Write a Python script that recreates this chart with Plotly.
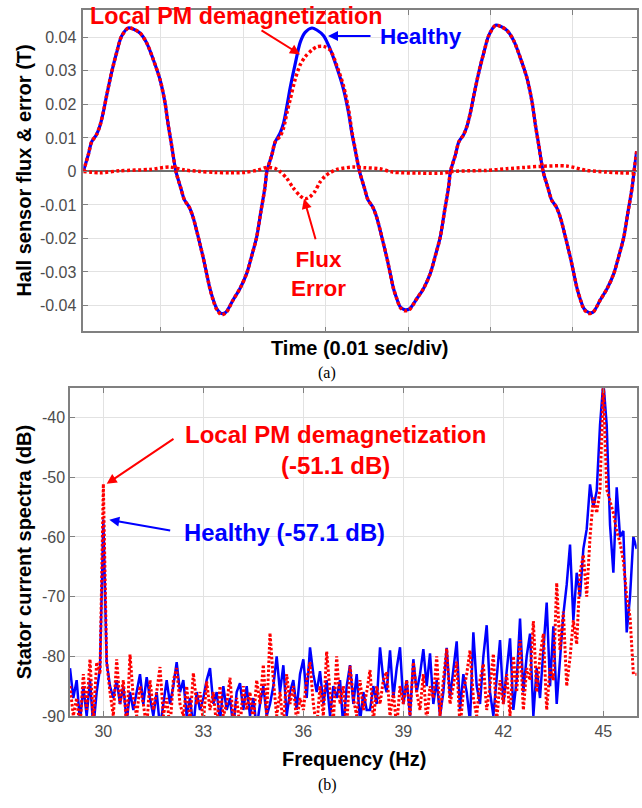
import plotly.graph_objects as go

W, H = 642, 808
def PX(x): return x / W
def PY(y): return 1 - y / H

# ---------------- (a) Hall sensor flux (time in ms; 0.01 s per division) ----------------
t_healthy = [0.00, 0.61, 1.01, 1.61, 2.03, 2.43, 2.83, 3.43, 4.04, 4.64, 5.46, 6.06, 6.88, 7.68, 8.49, 9.30, 9.91, 10.31, 10.71, 11.24,
             11.84, 12.27, 12.82, 13.34, 13.79, 14.15, 14.58, 14.97, 15.37, 15.77, 16.21, 16.78, 17.31, 18.19, 19.00, 19.82, 20.46, 21.03, 21.55, 22.04,
             22.28, 22.89, 23.29, 23.89, 24.31, 24.71, 25.11, 25.71, 26.32, 26.92, 27.74, 28.34, 29.16, 29.96, 30.77, 31.58, 32.19, 32.59, 32.99, 33.52,
             34.12, 34.55, 35.10, 35.62, 36.07, 36.43, 36.86, 37.25, 37.65, 38.05, 38.49, 39.06, 39.59, 40.47, 41.28, 42.10, 42.74, 43.31, 43.83, 44.32,
             44.56, 45.17, 45.57, 46.17, 46.59, 46.99, 47.39, 47.99, 48.60, 49.20, 50.02, 50.62, 51.44, 52.24, 53.05, 53.86, 54.47, 54.87, 55.27, 55.80,
             56.40, 56.83, 57.38, 57.90, 58.35, 58.71, 59.14, 59.53, 59.93, 60.33, 60.77, 61.34, 61.87, 62.75, 63.56, 64.38, 65.02, 65.59, 66.11, 66.60,
             66.84, 67.16]
flux_healthy = [0.0, 0.005, 0.0088, 0.011, 0.0137, 0.0177, 0.0226, 0.0295, 0.0354, 0.0403, 0.0428, 0.0425, 0.0413, 0.0384, 0.0334, 0.0275, 0.0206, 0.0138, 0.0079, 0.0,
                -0.005, -0.0085, -0.0105, -0.0138, -0.018, -0.0216, -0.026, -0.0305, -0.035, -0.0383, -0.041, -0.0424, -0.042, -0.0383, -0.035, -0.0305, -0.025, -0.0197, -0.012, -0.0049,
                0.0, 0.005, 0.0088, 0.0115, 0.0145, 0.0195, 0.025, 0.032, 0.0385, 0.0415, 0.0428, 0.0422, 0.0405, 0.0365, 0.031, 0.0245, 0.0175, 0.0115, 0.0065, 0.0,
                -0.005, -0.0085, -0.0105, -0.0138, -0.018, -0.0216, -0.026, -0.0305, -0.035, -0.038, -0.0405, -0.0413, -0.041, -0.038, -0.035, -0.0305, -0.025, -0.0197, -0.012, -0.0049,
                0.0, 0.005, 0.0088, 0.011, 0.0137, 0.0177, 0.0226, 0.0295, 0.0354, 0.0405, 0.0436, 0.0433, 0.042, 0.039, 0.0338, 0.0277, 0.0206, 0.0138, 0.0079, 0.0,
                -0.005, -0.0085, -0.0105, -0.0138, -0.018, -0.0216, -0.026, -0.0305, -0.035, -0.0383, -0.041, -0.0421, -0.042, -0.0383, -0.035, -0.0305, -0.025, -0.0197, -0.012, -0.0049,
                0.0, 0.006]
flux_demag = [0.0, 0.005, 0.0088, 0.011, 0.0137, 0.0177, 0.0226, 0.0295, 0.0354, 0.0403, 0.0428, 0.0425, 0.0413, 0.0384, 0.0334, 0.0275, 0.0206, 0.0138, 0.0079, 0.0,
              -0.005, -0.0085, -0.0105, -0.0138, -0.018, -0.0216, -0.026, -0.0305, -0.035, -0.0385, -0.0413, -0.0428, -0.0422, -0.0383, -0.035, -0.0305, -0.025, -0.0197, -0.012, -0.0049,
              0.0, 0.005, 0.0088, 0.0105, 0.013, 0.0175, 0.0215, 0.0275, 0.0318, 0.0342, 0.0362, 0.0372, 0.0373, 0.0362, 0.0315, 0.0255, 0.0185, 0.012, 0.0068, 0.0,
              -0.005, -0.0085, -0.0105, -0.0138, -0.018, -0.0216, -0.026, -0.0305, -0.035, -0.038, -0.0407, -0.0416, -0.0412, -0.038, -0.035, -0.0305, -0.025, -0.0197, -0.012, -0.0049,
              0.0, 0.005, 0.0088, 0.011, 0.0137, 0.0177, 0.0226, 0.0295, 0.0354, 0.0405, 0.0436, 0.0433, 0.042, 0.039, 0.0338, 0.0277, 0.0206, 0.0138, 0.0079, 0.0,
              -0.005, -0.0085, -0.0105, -0.0138, -0.018, -0.0216, -0.026, -0.0305, -0.035, -0.0383, -0.0412, -0.0424, -0.042, -0.0383, -0.035, -0.0305, -0.025, -0.0197, -0.012, -0.0049,
              0.0, 0.006]
t_error = [0.0, 2.03, 4.45, 8.09, 10.51, 12.33, 14.15, 15.97, 17.79, 19.61, 21.19, 22.24, 23.25, 23.85, 24.67, 25.47, 26.28, 26.89, 27.5, 28.1,
           28.7, 29.31, 29.92, 30.77, 32.71, 34.16, 35.98, 37.56, 40.83, 43.62, 44.84, 46.9, 48.96, 51.38, 53.57, 55.39, 58.66, 61.09, 63.51, 65.09,
           66.66, 67.16]
flux_error = [0.0, -0.0004, 0.0002, 0.0006, 0.0013, 0.0004, 0.0, -0.0003, -0.0004, -0.0003, 0.0004, 0.0012, 0.0009, 0.0, -0.002, -0.0049, -0.0072, -0.0082, -0.0076, -0.006,
              -0.0033, -0.0015, -0.0004, 0.0006, 0.0013, 0.0011, 0.0008, -0.0002, -0.0005, -0.0005, 0.0, 0.0002, 0.0003, 0.0008, 0.0012, 0.0015, 0.0016, 0.0003, -0.0002, -0.0004,
              -0.0005, -0.0004]
flux_ticks = [-0.04, -0.03, -0.02, -0.01, 0, 0.01, 0.02, 0.03, 0.04]
flux_ticktext = ["-0.04", "-0.03", "-0.02", "-0.01", "0", "0.01", "0.02", "0.03", "0.04"]

# ---------------- (b) Stator current spectra, 29.0 ... 46.0 Hz every 0.1 Hz ----------------
f_start, f_step, n_pts = 29.0, 0.1, 171
freq = [round(f_start + f_step * i, 1) for i in range(n_pts)]
spec_healthy = [
    -82, -87, -84, -91, -85, -90, -84, -92, -86, -82,
    -57.1, -81, -85, -87, -84, -88, -85, -91, -86, -89,
    -86, -83, -88, -83.5, -87, -90, -86, -92, -88, -84,
    -88, -85, -81, -86, -84, -90, -87, -92, -86, -89,
    -87, -84, -82, -88, -86, -91, -85, -89, -87, -92,
    -86, -84.5, -89, -85, -90, -87, -92, -88, -85, -90,
    -88, -85, -80, -86, -81.5, -90, -86, -84, -89, -83,
    -80.5, -87, -78.5, -83, -86, -82.5, -88, -84, -90, -85,
    -87, -84, -92, -85, -81.5, -88, -83, -91, -86, -89,
    -89, -85, -88, -78.5, -84, -86, -79, -87, -82, -78.5,
    -88, -84, -90, -80.5, -86, -83, -78.8, -85, -79.5, -88,
    -84, -90, -86, -78.6, -87, -82, -77.5, -89, -83, -86,
    -91, -76, -85, -88, -80, -74.8, -86, -90, -84, -77.3,
    -88, -82, -77, -89, -84, -73.7, -86, -80, -76.2, -90,
    -82, -87, -79, -71, -85, -75, -88, -80, -73, -68,
    -61.3, -74, -66, -70, -62, -58.7, -51.2, -55, -52.3, -41.2,
    -34, -41.2, -58, -66, -51.7, -60, -59, -76, -70, -60,
    -62]
spec_demag = [
    -85, -90, -87, -92, -83, -89, -80.5, -91, -81, -83,
    -51.1, -81, -86, -90, -80.5, -88, -84, -92, -79.7, -87,
    -90, -85, -88, -92, -84, -89, -86, -81.8, -90, -87,
    -92, -84, -82, -88, -90, -85, -91, -82.8, -88, -86,
    -91, -84.2, -89, -86, -92, -85, -90, -88, -83.6, -91,
    -87, -92, -85, -89, -86, -91, -84, -88, -81.4, -90,
    -76.1, -84, -90, -86, -92, -83, -88, -85, -91, -87,
    -89, -84, -81, -88, -92, -85, -90, -79.2, -86, -91,
    -80, -88, -85, -92, -81.6, -87, -90, -84, -89, -86,
    -82.3, -91, -85, -88, -84, -82.6, -90, -86, -92, -85,
    -88, -84, -90, -81, -86, -89, -83, -91, -85, -87,
    -80, -90, -84, -78.7, -88, -85, -80.9, -92, -86, -83,
    -79, -87, -90, -84, -81.3, -89, -85, -79.6, -91, -84,
    -88, -83, -90, -80, -86, -77.3, -89, -82, -84, -74.1,
    -86, -80, -76.2, -89, -82, -84, -67.7, -79, -72.5, -85,
    -80.2, -74, -78, -66, -63, -70, -60, -53.4, -56, -52,
    -34, -52, -54, -56, -59, -61, -64, -70, -73.4, -83,
    -83]
db_ticks = [-90, -80, -70, -60, -50, -40]
db_ticktext = ["-90", "-80", "-70", "-60", "-50", "-40"]
f_ticks = [30, 33, 36, 39, 42, 45]
f_ticktext = ["30", "33", "36", "39", "42", "45"]

BLUE = "#0000ff"
RED = "#ff0000"
SANS = "Liberation Sans, Arial, sans-serif"
SERIF = "Liberation Serif, Times New Roman, serif"

fig = go.Figure()
fig.add_trace(go.Scatter(x=t_healthy, y=flux_healthy, mode="lines", line=dict(color=BLUE, width=3.2, shape="spline", smoothing=0.8),
                         xaxis="x", yaxis="y", showlegend=False))
fig.add_trace(go.Scatter(x=t_healthy, y=flux_demag, mode="lines", line=dict(color=RED, width=3.5, dash="3px,2.5px", shape="spline", smoothing=0.8),
                         xaxis="x", yaxis="y", showlegend=False))
fig.add_trace(go.Scatter(x=t_error, y=flux_error, mode="lines", line=dict(color=RED, width=3.5, dash="3px,2.5px", shape="spline", smoothing=0.8),
                         xaxis="x", yaxis="y", showlegend=False))
fig.add_trace(go.Scatter(x=freq, y=spec_healthy, mode="lines", line=dict(color=BLUE, width=2.5),
                         xaxis="x2", yaxis="y2", showlegend=False))
fig.add_trace(go.Scatter(x=freq, y=spec_demag, mode="lines", line=dict(color=RED, width=3, dash="2.5px,2px"),
                         xaxis="x2", yaxis="y2", showlegend=False))

axis_common = dict(showline=True, linecolor="#808080", linewidth=1.5, mirror="ticks", ticks="inside", ticklen=5,
                   tickcolor="#808080", showgrid=True, gridcolor="#e2e2e2", gridwidth=1,
                   tickfont=dict(family=SANS, size=16, color="#4d4d4d"))

fig.update_layout(
    width=W, height=H, margin=dict(l=0, r=0, t=0, b=0),
    paper_bgcolor="white", plot_bgcolor="white",
    xaxis=dict(domain=[PX(83.3), PX(636.7)], anchor="y", range=[0, 67.16], tick0=9.42, dtick=10,
               showticklabels=False, zeroline=False, **axis_common),
    yaxis=dict(domain=[PY(335), PY(10)], anchor="x", range=[-0.0477, 0.0482], tickmode="array",
               tickvals=flux_ticks, ticktext=flux_ticktext, zeroline=True, zerolinecolor="#6e6e6e", zerolinewidth=2,
               ticklabelstandoff=2, **axis_common),
    xaxis2=dict(domain=[PX(70), PX(636.7)], anchor="y2", range=[29, 46], tickmode="array",
                tickvals=f_ticks, ticktext=f_ticktext, zeroline=False, **axis_common),
    yaxis2=dict(domain=[PY(724), PY(392.7)], anchor="x2", range=[-90, -35.1], tickmode="array",
                tickvals=db_ticks, ticktext=db_ticktext, zeroline=False, **axis_common),
)

def txt(x, y, s, size=20, color="black", angle=0, family=SANS, bold=True):
    fig.add_annotation(x=PX(x), y=PY(y), xref="paper", yref="paper", text=(f"<b>{s}</b>" if bold else s),
                       showarrow=False, xanchor="center", yanchor="middle", textangle=angle,
                       font=dict(family=family, size=size, color=color))

def arrow(hx, hy, tx, ty, color):
    fig.add_annotation(x=PX(hx), y=PY(hy), xref="paper", yref="paper", text="", showarrow=True,
                       ax=tx - hx, ay=ty - hy, axref="pixel", ayref="pixel",
                       arrowhead=2, arrowsize=1, arrowwidth=2, arrowcolor=color, standoff=0)

# titles
txt(360, 351.5, "Time (0.01 sec/div)")
txt(24, 172.5, "Hall sensor flux &amp; error (T)", angle=-90)
txt(354, 767.5, "Frequency (Hz)")
txt(23.5, 558, "Stator current spectra (dB)", angle=-90)
txt(327, 377, "(a)", size=16, family=SERIF, bold=False)
txt(327, 794, "(b)", size=16, family=SERIF, bold=False)

# (a) annotations
txt(236, 16.5, "Local PM demagnetization", size=23.3, color=RED)
txt(421, 37, "Healthy", size=22.5, color=BLUE)
txt(318, 277, "Flux<br>Error", size=22.5, color=RED)
arrow(300, 55, 260, 30, RED)
arrow(328, 36.5, 372, 36.5, BLUE)
arrow(304, 201, 316, 243, RED)

# (b) annotations
txt(335, 455, "Local PM demagnetization<br>(-51.1 dB)", size=24, color=RED)
txt(284, 539, "Healthy (-57.1 dB)", size=23.8, color=BLUE)
arrow(106.7, 489.3, 175, 443.3, RED)
arrow(109.3, 525.7, 171.7, 536.7, BLUE)

fig.write_html("out.html")
